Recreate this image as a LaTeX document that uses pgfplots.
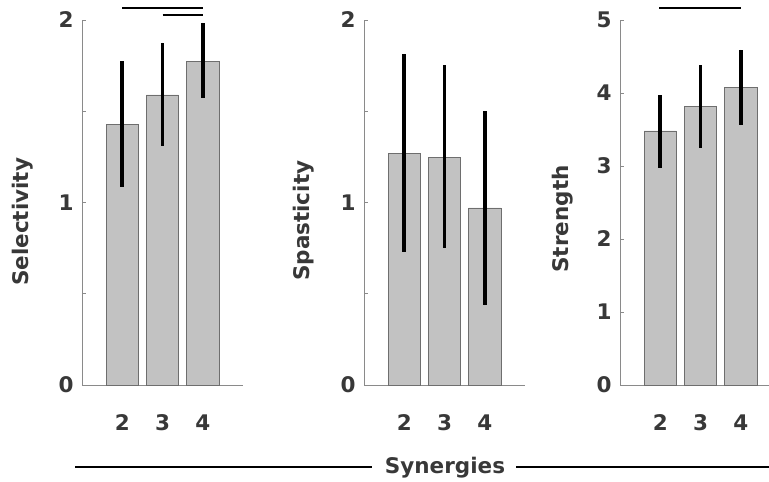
\documentclass[border=0pt]{standalone}
\usepackage{fontspec}
\setmainfont{DejaVu Sans}
\usepackage{pgfplots}
\pgfplotsset{compat=1.18}

\definecolor{barfill}{HTML}{C2C2C2}
\definecolor{bardraw}{HTML}{6E6E6E}
\definecolor{axisgray}{HTML}{8A8A8A}
\definecolor{txt}{HTML}{383838}

\tikzset{sigline/.style={line width=2pt, black}}
\newcommand{\bigfont}{\fontsize{21.5}{25}\selectfont\bfseries}

\pgfplotsset{
  panel/.style={
    scale only axis,
    width=161pt, height=365pt,
    anchor=south west,
    xmin=0, xmax=4, ymin=0,
    clip=false,
    axis x line*=bottom, axis y line*=left,
    axis line style={draw=axisgray, line width=0.6pt, -},
    xtick={1,2,3}, xticklabels={2,3,4},
    major x tick style={draw=none},
    tick align=inside,
    ytick style={draw=axisgray, line width=0.6pt},
    major tick length=4pt, minor tick length=4pt,
    /pgf/number format/assume math mode=true,
    tick label style={font=\bigfont, text=txt},
    xticklabel style={yshift=-22pt},
    yticklabel style={xshift=-5pt},
    ybar, bar width=0.8,
  },
  ylab/.style 2 args={
    every axis y label/.style={at={(axis description cs:#1,#2)}, rotate=90,
      anchor=center, font=\bigfont, text=txt},
  },
  bars/.style={
    fill=barfill, draw=bardraw, line width=0.6pt,
    error bars/y dir=both, error bars/y explicit,
    error bars/error mark=none,
    error bars/error bar style={line width=3.6pt, black, solid},
  },
}

\begin{document}
\begin{tikzpicture}
\useasboundingbox (0pt,0pt) rectangle (769pt,482pt);

% --- Selectivity ---
\begin{axis}[panel, at={(82pt,97pt)},
  ymax=2, ytick={0,1,2}, minor ytick={0.5,1.5},
  ylabel={Selectivity}, ylab={-0.366}{0.447},
]
\addplot[bars] coordinates {
  (1,1.43) +=(0,0.345) -=(0,0.345)
  (2,1.59) +=(0,0.284) -=(0,0.28)
  (3,1.775) +=(0,0.209) -=(0,0.202)
};
\draw[sigline] (axis cs:1,2.066) -- (axis cs:3,2.066);
\draw[sigline] (axis cs:2,2.027) -- (axis cs:3,2.027);
\end{axis}

% --- Spasticity ---
\begin{axis}[panel, at={(364pt,97pt)},
  ymax=2, ytick={0,1,2}, minor ytick={0.5,1.5},
  ylabel={Spasticity}, ylab={-0.373}{0.45},
]
\addplot[bars] coordinates {
  (1,1.271) +=(0,0.543) -=(0,0.542)
  (2,1.249) +=(0,0.504) -=(0,0.499)
  (3,0.97) +=(0,0.53) -=(0,0.532)
};
\end{axis}

% --- Strength ---
\begin{axis}[panel, at={(620pt,97pt)},
  width=149pt, xmax=3.70,
  ymax=5, ytick={0,1,2,3,4,5},
  ylabel={Strength}, ylab={-0.383}{0.455},
]
\addplot[bars] coordinates {
  (1,3.48) +=(0,0.49) -=(0,0.51)
  (2,3.82) +=(0,0.56) -=(0,0.57)
  (3,4.08) +=(0,0.51) -=(0,0.52)
};
\draw[sigline] (axis cs:0.98,5.16) -- (axis cs:3,5.16);
\end{axis}

% --- shared x label ---
\draw[line width=1.5pt, black] (75pt,15pt) -- (372pt,15pt);
\draw[line width=1.5pt, black] (516pt,15pt) -- (769pt,15pt);
\node[anchor=base, font=\bigfont, text=txt] at (445pt,8pt) {Synergies};
\end{tikzpicture}
\end{document}
